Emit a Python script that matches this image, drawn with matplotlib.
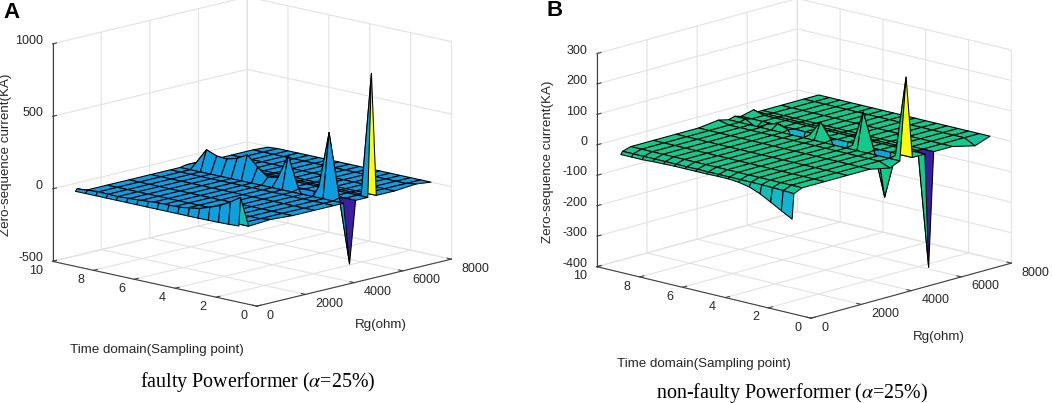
import numpy as np
import matplotlib
matplotlib.use('Agg')
import matplotlib.pyplot as plt
from matplotlib.colors import LinearSegmentedColormap

W, H = 1052, 403

plt.rcParams['axes.unicode_minus'] = False
plt.rcParams['mathtext.fontset'] = 'stix'

# mesh nodes
time_nodes = [1, 1.5, 2, 2.5, 3, 3.5, 4, 4.5, 5, 5.5, 6, 6.5, 7, 7.5, 8, 8.5, 9]
rg_nodes = [100, 170, 500, 1400, 2300, 3200, 4000, 4400, 4650, 4900, 5400, 5550, 5750, 6500, 7400, 8000]

# panel A, rows read along the time axis
a_r100 = [18, 14, 12, 11, 10, 10, 10, 10, 10, 10, 10, 10, 10, 10, 10, 10, 10]
a_r170 = [212, 165, 125, 98, 74, 62, 52, 50, 50, 45, 40, 36, 32, 34, 36, 30, 25]
a_ridge = [-428, 12, 447, 60, -100, 12, 229, 60, 46, 100, 170, 130, 110, 115, 143, 40, 8]
a_spike_t = [1, 1, 1, 9]
a_spike_rg = [5550, 7400, 1400, 8000]
a_spike_z = [850, 12, 10, -6]

# panel B
b_r100 = [-94, -75, -55, -36, -22, -15, -12, -12, -13, -13, -13, -13, -14, -15, -17, -17, -17]
b_r170 = [-12, -10, -9, -8, -8, -8, -8, -8, -8, -8, -8, -8, -8, -8, -8, -8, -8]
b_ridge = [270, 4, -141, 4, 121, 4, -100, 4, 55, 4, -90, 4, 15, 5, -15, 5, 6]
b_spike_t = [1, 1, 1, 9, 9]
b_spike_rg = [5550, 7400, 4000, 4000, 5400]
b_spike_z = [-375, -18, -14, 8, 10]

parula_like = LinearSegmentedColormap.from_list('parula_like', [
    (0.0, '#3b1fa0'), (0.15, '#1e78ff'), (0.335, '#0d9de0'), (0.45, '#10b8d0'),
    (0.58, '#13c98c'), (0.7, '#7fc060'), (0.85, '#f0c020'), (1.0, '#ffff00')])


def build_z(r100, r170, ridge, spike_t, spike_rg, spike_z):
    z = np.zeros((len(time_nodes), len(rg_nodes)))
    z[:, 0] = r100
    z[:, 1] = r170
    z[:, rg_nodes.index(4650)] = ridge
    for t, r, v in zip(spike_t, spike_rg, spike_z):
        z[time_nodes.index(t), rg_nodes.index(r)] = v
    return z


def align_labels(axis, ha, va):
    # mplot3d puts tick labels by its own rule, alignment is what we can move
    for lab in axis.get_ticklabels():
        lab.set_family('Liberation Sans')
        lab.set_ha(ha)
        lab.set_va(va)


def add_panel(fig, z, zlim, zticks, center, side, elev, azim, zaspect):
    # square axes centred on the box centre, pixels from top left
    ax = fig.add_axes([(center[0] - side / 2) / W, 1 - (center[1] + side / 2) / H, side / W, side / H],
                      projection='3d', proj_type='ortho')
    ax.patch.set_alpha(0)
    ax.view_init(elev=elev, azim=azim)
    ax.set_box_aspect((1, 1, zaspect))
    ax.set_xlim(0, 8000)
    ax.set_ylim(0, 10)
    ax.set_zlim(*zlim)
    ax.set_xticks([0, 2000, 4000, 6000, 8000])
    ax.set_yticks([0, 2, 4, 6, 8, 10])
    ax.set_zticks(zticks)

    X, Y = np.meshgrid(rg_nodes, time_nodes)
    norm = plt.Normalize(z.min(), z.max())
    ax.plot_surface(X, Y, z, rstride=1, cstride=1, facecolors=parula_like(norm(z)),
                    edgecolor='black', linewidth=0.75, shade=False, antialiased=True)

    for axis in (ax.xaxis, ax.yaxis, ax.zaxis):
        axis.set_pane_color((1, 1, 1, 0))
        axis.pane.set_edgecolor('#d8d8d8')
        axis.line.set_color('#404040')
        axis.line.set_linewidth(0.8)
        axis._axinfo['grid'].update(color='#e2e2e2', linewidth=0.8)
        axis._axinfo['tick'].update(inward_factor=0.0, outward_factor=0.25)
    ax.tick_params(labelsize=9, labelcolor='#262626', color='#404040', pad=0)
    ax.tick_params(axis='z', pad=-4)
    align_labels(ax.xaxis, 'left', 'baseline')
    align_labels(ax.yaxis, 'right', 'baseline')
    align_labels(ax.zaxis, 'right', 'baseline')
    return ax


fig = plt.figure(figsize=(W / 100, H / 100), dpi=100)

z_a = build_z(a_r100, a_r170, a_ridge, a_spike_t, a_spike_rg, a_spike_z)
z_b = build_z(b_r100, b_r170, b_ridge, b_spike_t, b_spike_rg, b_spike_z)
add_panel(fig, z_a, (-500, 1000), [-500, 0, 500, 1000], (246, 157.5), 444, 13.3, 223.6, 0.792)
add_panel(fig, z_b, (-400, 300), [-400, -300, -200, -100, 0, 100, 200, 300], (798, 164.5), 456, 14.9, 223.1, 0.752)


def put(x, y, s, **kw):
    kw.setdefault('family', 'Liberation Sans')
    kw.setdefault('fontsize', 9.6)
    kw.setdefault('color', '#262626')
    fig.text(x / W, 1 - y / H, s, ha='center', va='center', **kw)


put(11, 12, 'A', fontsize=16, fontweight='bold', color='black')
put(555, 11, 'B', fontsize=16, fontweight='bold', color='black')
put(6, 155, 'Zero-sequence current(KA)', rotation=90)
put(548, 162, 'Zero-sequence current(KA)', rotation=90)
put(381, 325, 'Rg(ohm)')
put(939, 337, 'Rg(ohm)')
put(157, 350, 'Time domain(Sampling point)')
put(704, 364, 'Time domain(Sampling point)')
put(258, 382, 'faulty Powerformer ($\\alpha$=25%)', family='Liberation Serif', fontsize=14.4, color='black')
put(792, 393, 'non-faulty Powerformer ($\\alpha$=25%)', family='Liberation Serif', fontsize=14.4, color='black')

fig.savefig('out.png', dpi=100)
